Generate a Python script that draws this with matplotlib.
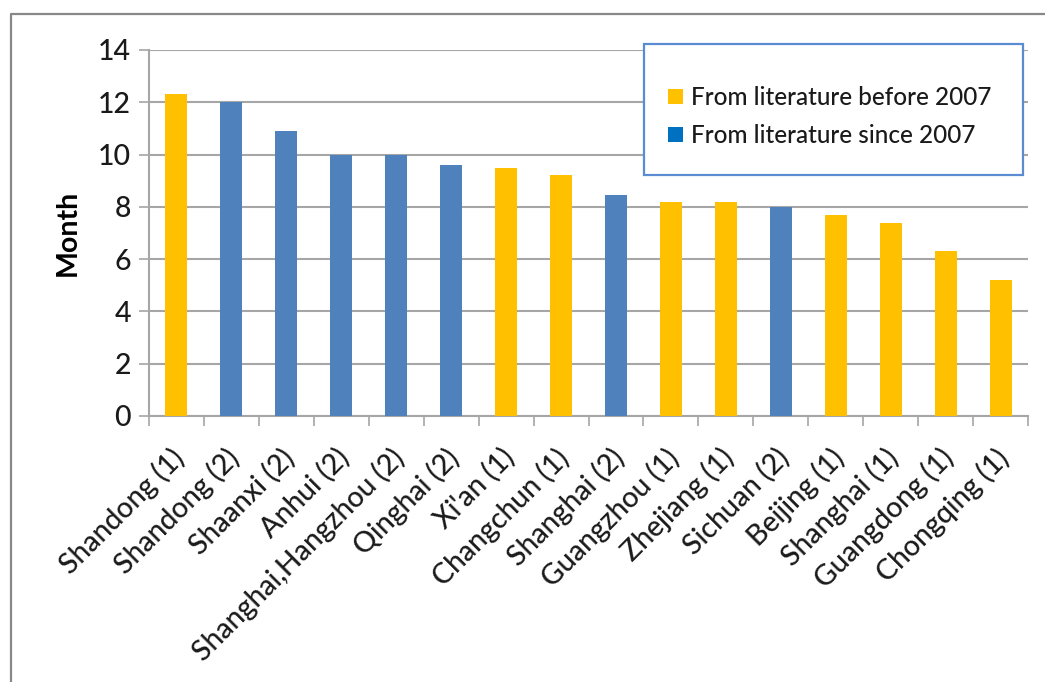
import numpy as np
import matplotlib
matplotlib.use("Agg")
import matplotlib.pyplot as plt
from matplotlib.patches import Patch, Rectangle
from matplotlib.lines import Line2D
from matplotlib.transforms import ScaledTranslation

plt.rcParams['font.family'] = ['Lato', 'DejaVu Sans']
plt.rcParams['font.weight'] = 'medium'

# data
regions = ['Shandong (1)', 'Shandong (2)', 'Shaanxi (2)', 'Anhui (2)',
           'Shanghai,Hangzhou (2)', 'Qinghai (2)', "Xi'an (1)", 'Changchun (1)',
           'Shanghai (2)', 'Guangzhou (1)', 'Zhejiang (1)', 'Sichuan (2)',
           'Beijing (1)', 'Shanghai (1)', 'Guangdong (1)', 'Chongqing (1)']
months = [12.3, 12.0, 10.9, 10.0, 10.0, 9.6, 9.5, 9.2,
          8.45, 8.2, 8.2, 8.0, 7.7, 7.4, 6.3, 5.2]
# 1 = from literature before 2007, 2 = since 2007
source = [1, 2, 2, 2, 2, 2, 1, 1, 2, 1, 1, 2, 1, 1, 1, 1]
legend_labels = ['From literature before 2007', 'From literature since 2007']

gold = '#FFC000'
blue = '#4F81BD'
grid_col = '#A6A6A6'

fig = plt.figure(figsize=(10.45, 6.82), dpi=100)
ax = fig.add_axes([149 / 1045, 1 - 416 / 682, 879 / 1045, 366 / 682])

x = np.arange(len(regions))
colors = [gold if s == 1 else blue for s in source]
ax.bar(x, months, width=0.4, color=colors, zorder=3)

ax.set_xlim(-0.5, len(regions) - 0.5)
ax.set_ylim(0, 14)
ax.set_yticks(np.arange(0, 15, 2))
ax.yaxis.grid(True, color=grid_col, linewidth=1.5, zorder=0)
ax.tick_params(axis='y', length=7, width=1.2, color=grid_col, labelsize=20.5,
               pad=6, labelcolor='#1a1a1a')

for s in ['top', 'right']:
    ax.spines[s].set_visible(False)
for s in ['left', 'bottom']:
    ax.spines[s].set_color(grid_col)
    ax.spines[s].set_linewidth(1.5)

# category separators as minor ticks
ax.set_xticks(np.arange(-0.5, len(regions)), minor=True)
ax.tick_params(axis='x', which='minor', length=7, width=1.2, color=grid_col)
ax.set_xticks(x)
ax.set_xticklabels(regions, rotation=45, ha='right', va='top',
                   rotation_mode='anchor', fontsize=20.5, color='#1a1a1a')
ax.tick_params(axis='x', which='major', length=0, pad=20)
shift = ScaledTranslation(-6 / 100, 0, fig.dpi_scale_trans)
for lab in ax.get_xticklabels():
    lab.set_transform(lab.get_transform() + shift)

ax.set_ylabel('Month', fontsize=20.5, fontweight='bold', labelpad=12)

# legend box
fig.add_artist(Rectangle((644 / 1045, 1 - 175 / 682), 379 / 1045, 131 / 682,
                         transform=fig.transFigure, facecolor='white',
                         edgecolor='#5B8BD0', linewidth=1.6, zorder=5))
handles = [Patch(facecolor=gold, label=legend_labels[0]),
           Patch(facecolor='#0070C0', label=legend_labels[1])]
leg = fig.legend(handles=handles, loc='upper left',
                 bbox_to_anchor=(668 / 1045, 1 - 86 / 682), frameon=False,
                 fontsize=17.5, handlelength=0.6, handleheight=0.6,
                 handletextpad=0.35, labelspacing=0.62, borderpad=0,
                 borderaxespad=0)
leg.set_zorder(6)
for t in leg.get_texts():
    t.set_color('#1a1a1a')

# outer chart frame (top and left edges)
fig.add_artist(Line2D([11 / 1045, 11 / 1045, 1.0], [0.0, 1 - 14 / 682, 1 - 14 / 682],
                      transform=fig.transFigure, color='#888888', linewidth=1.6))

fig.savefig('out.png', dpi=100)
